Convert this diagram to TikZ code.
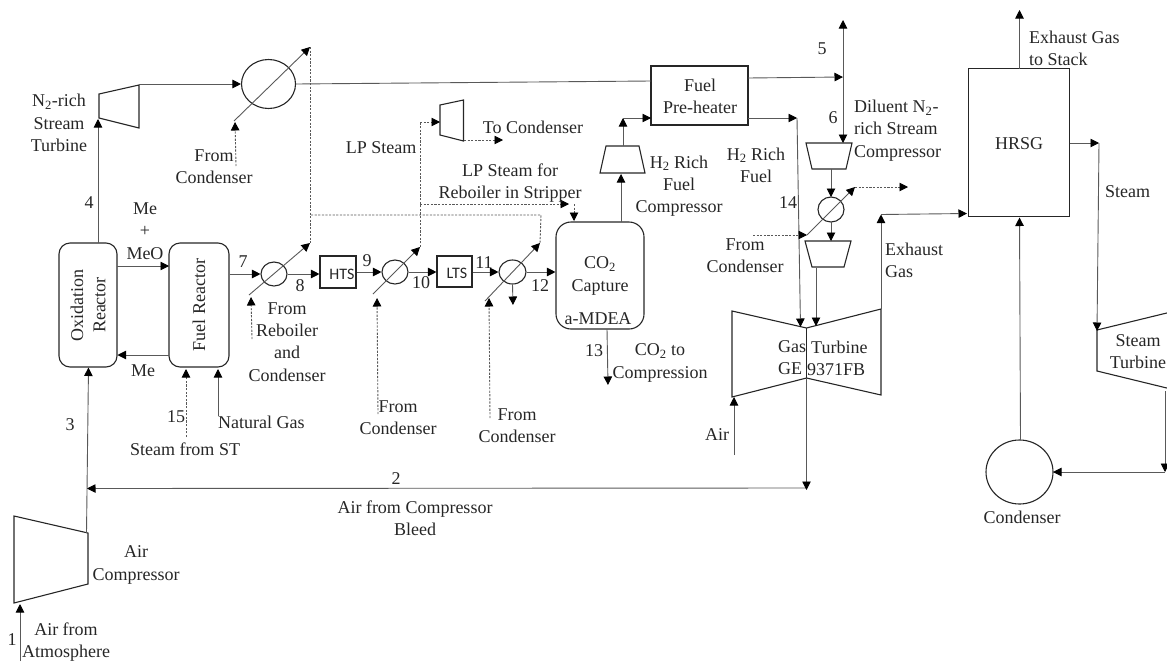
\documentclass[tikz,border=0pt]{standalone}
\usepackage{fontspec}
\setmainfont{Liberation Serif}
\newfontfamily\labsans{Carlito}
\usetikzlibrary{arrows.meta,shapes.geometric}
\tikzset{
  shp/.style={draw=black!85,line width=1.1pt,line join=miter},
  rbox/.style={shp,rounded corners=11pt,inner sep=0pt},
  sqbox/.style={shp,rectangle,inner sep=0pt},
  hx/.style={shp,ellipse,inner sep=0pt},
  flow/.style={draw=black!65,line width=0.9pt,-{Triangle[length=8.5pt,width=8.5pt,color=black]}},
  flowplain/.style={draw=black!65,line width=0.9pt},
  dflow/.style={flow,dash pattern=on 2.2pt off 1.4pt},
  dplain/.style={flowplain,dash pattern=on 2.2pt off 1.4pt},
  txt/.style={font=\fontsize{18}{22.2}\selectfont,text=black!85,inner sep=0pt,align=center},
  txl/.style={txt,anchor=west,align=left},
  small/.style={font=\labsans\fontsize{16}{18}\selectfont,text=black!85,inner sep=0pt}
}
\begin{document}
\begin{tikzpicture}[x=1pt,y=-1pt]
\useasboundingbox (0,0) rectangle (1167,662);
\clip (0,0) rectangle (1167,662);

% ---- equipment: boxes and reactors
\node[rbox,minimum width=58pt,minimum height=124pt] (ox) at (88,305) {};
\node[rbox,minimum width=60pt,minimum height=124pt] (fuel) at (199,305) {};
\node[sqbox,minimum width=36pt,minimum height=32pt] (hts) at (338,272) {};
\node[sqbox,minimum width=35pt,minimum height=31pt] (lts) at (454.5,271.5) {};
\node[rbox,rounded corners=15pt,minimum width=88pt,minimum height=107pt] (co2) at (600,275.5) {};
\node[sqbox,minimum width=97pt,minimum height=59pt] (pre) at (699.5,95.5) {};
\node[sqbox,minimum width=101pt,minimum height=148pt] (hrsg) at (1019,142.5) {};
\node[shp,ellipse,minimum width=67pt,minimum height=64pt,inner sep=0pt] (cond) at (1019.5,472) {};

% ---- heat exchangers
\node[hx,minimum width=54pt,minimum height=49pt] (hx1) at (268.5,84) {};
\node[hx,minimum width=26pt,minimum height=24pt] (hx2) at (274,274) {};
\node[hx,minimum width=26pt,minimum height=24pt] (hx3) at (395,272) {};
\node[hx,minimum width=27pt,minimum height=24pt] (hx4) at (512.5,272) {};
\node[hx,minimum width=26pt,minimum height=25pt] (hx5) at (831,209.5) {};

% ---- turbomachines: corner points
\coordinate (nt1) at (99,94);  \coordinate (nt2) at (139,85);
\coordinate (nt3) at (139,128);\coordinate (nt4) at (99,118);
\draw[shp] (nt1)--(nt2)--(nt3)--(nt4)--cycle;
\coordinate (lp1) at (440,105);\coordinate (lp2) at (463.5,100);
\coordinate (lp3) at (463.5,141);\coordinate (lp4) at (440,135);
\draw[shp] (lp1)--(lp2)--(lp3)--(lp4)--cycle;
\coordinate (hc1) at (606,146);\coordinate (hc2) at (639,146);
\coordinate (hc3) at (645,173);\coordinate (hc4) at (600,173);
\draw[shp] (hc1)--(hc2)--(hc3)--(hc4)--cycle;
\coordinate (dc1) at (806,143);\coordinate (dc2) at (852,143);
\coordinate (dc3) at (846,169);\coordinate (dc4) at (812,169);
\draw[shp] (dc1)--(dc2)--(dc3)--(dc4)--cycle;
\coordinate (lc1) at (805,241);\coordinate (lc2) at (851,241);
\coordinate (lc3) at (844,267);\coordinate (lc4) at (812,267);
\draw[shp] (lc1)--(lc2)--(lc3)--(lc4)--cycle;
\coordinate (gl1) at (732,311);\coordinate (gc1) at (806.5,328);
\coordinate (gr1) at (881,309);\coordinate (gr2) at (881,395);
\coordinate (gc2) at (806.5,378);\coordinate (gl2) at (732,397);
\draw[shp] (gl1)--(gc1)--(gr1)--(gr2)--(gc2)--(gl2)--cycle;
\draw[shp] (gc1)--(gc2);
\coordinate (ac1) at (14,516);\coordinate (ac2) at (88,533);
\coordinate (ac3) at (88,584);\coordinate (ac4) at (14,603);
\draw[shp] (ac1)--(ac2)--(ac3)--(ac4)--cycle;
\coordinate (st1) at (1097,330);\coordinate (st2) at (1175,311);
\coordinate (st3) at (1175,390);\coordinate (st4) at (1097,371);
\draw[shp] (st1)--(st2)--(st3)--(st4)--cycle;

% ---- free ends and junctions
\coordinate (a1) at (20,661);
\coordinate (a1t) at (20,604);
\coordinate (oxb) at (88.5,367.5);
\coordinate (oxt) at (98,243);
\coordinate (j23) at (87,488.5);
\coordinate (ac2a) at (86.5,533);
\coordinate (gb) at (806.5,490);
\coordinate (gbj) at (806.5,488);
\coordinate (ntin) at (98,119);
\coordinate (ntout) at (139,84);
\coordinate (fr) at (169,266);
\coordinate (oxr) at (117,266);
\coordinate (fr2) at (169,355);
\coordinate (oxr2) at (117.5,355);
\coordinate (s15) at (186,437);
\coordinate (s15t) at (186,369);
\coordinate (ng) at (218,416);
\coordinate (ngt) at (218,369);
\coordinate (hx1a) at (234,121);
\coordinate (hx1b) at (310,47);
\coordinate (hx1c) at (236,166);
\coordinate (hx1d) at (235,122);
\coordinate (hx2a) at (249,295);
\coordinate (hx2b) at (310,243);
\coordinate (hx2c) at (252,339);
\coordinate (hx2d) at (251,297);
\coordinate (jd1) at (311,215);
\coordinate (jd2) at (541,215);
\coordinate (hx4b) at (540,243);
\coordinate (hx4a) at (485,301);
\coordinate (hx4c) at (490,418);
\coordinate (hx4d) at (489,298);
\coordinate (hx3a) at (373,294);
\coordinate (hx3b) at (420,247);
\coordinate (hx3c) at (378,414);
\coordinate (hx3d) at (377,298);
\coordinate (lpj) at (420,204);
\coordinate (lpt) at (420,122);
\coordinate (lpin) at (440,122);
\coordinate (reb) at (574,204);
\coordinate (reb1) at (569,204);
\coordinate (rebt) at (574,221);
\coordinate (lpout) at (464,140);
\coordinate (lpend) at (503,140);
\coordinate (hx4dn) at (513,305);
\coordinate (co2t) at (621,222);
\coordinate (hcb) at (621,174);
\coordinate (hct) at (623,146);
\coordinate (hctt) at (623,118);
\coordinate (prel) at (651,118);
\coordinate (prelin) at (651,81);
\coordinate (co2b) at (607,329);
\coordinate (co2e) at (608,385);
\coordinate (prer1) at (748,78);
\coordinate (j5) at (843,77);
\coordinate (t5) at (843,20);
\coordinate (b6) at (843,143);
\coordinate (prer2) at (748,118);
\coordinate (j14) at (797,118);
\coordinate (gc1a) at (800.5,327);
\coordinate (dcb) at (831,169);
\coordinate (hx5t) at (831,197);
\coordinate (hx5b) at (831,222);
\coordinate (lct) at (831,241);
\coordinate (lcb) at (816,268);
\coordinate (gc1b) at (816,326);
\coordinate (hx5a) at (807,235);
\coordinate (hx5c) at (855,187);
\coordinate (hx5e) at (908,187);
\coordinate (hx5f) at (753,235);
\coordinate (air) at (734,455);
\coordinate (airt) at (734,397);
\coordinate (exj) at (881,214.5);
\coordinate (hrin) at (967,213.5);
\coordinate (stk) at (1019.5,10);
\coordinate (hrt) at (1019.5,68.5);
\coordinate (hrout) at (1069.5,143);
\coordinate (stmj) at (1099,143);
\coordinate (stin) at (1097,331);
\coordinate (stb) at (1165,391);
\coordinate (stbe) at (1165,472);
\coordinate (conin) at (1053,472);
\coordinate (conup) at (1020.5,440);
\coordinate (hrb) at (1019.5,217.5);

% ---- solid connectors
\draw[flow] (a1)--(a1t);
\draw[flow] (ac2a)--(oxb);
\draw[flow] (gbj)--(j23);
\draw[flow] (gc2)--(gb);
\draw[flow] (oxt)--(ntin);
\draw[flow] (ntout)--(hx1.west);
\draw[flowplain] (hx1.east)--(prelin);
\draw[flow] (oxr)--(fr);
\draw[flow] (fr2)--(oxr2);
\draw[flow] (ng)--(ngt);
\draw[flow] (hx1a)--(hx1b);
\draw[flow] (fuel.east|-hx2)--(hx2.west);
\draw[flow] (hx2.east)--(hts.west|-hx2);
\draw[flow] (hx2a)--(hx2b);
\draw[flow] (hts.east)--(hx3.west);
\draw[flow] (hx3a)--(hx3b);
\draw[flow] (hx3.east)--(lts.west|-hx3);
\draw[flow] (lts.east|-hx4)--(hx4.west);
\draw[flow] (hx4a)--(hx4b);
\draw[flow] (hx4.south)--(hx4dn);
\draw[flow] (hx4.east)--(co2.west|-hx4);
\draw[flow] (co2t)--(hcb);
\draw[flow] (hct)--(hctt);
\draw[flow] (hctt)--(prel);
\draw[flow] (co2b)--(co2e);
\draw[flow] (prer1)--(j5);
\draw[flow] (j5)--(t5);
\draw[flow] (j5)--(b6);
\draw[flow] (prer2)--(j14);
\draw[flow] (j14)--(gc1a);
\draw[flow] (dcb)--(hx5t);
\draw[flow] (hx5b)--(lct);
\draw[flow] (lcb)--(gc1b);
\draw[flow] (hx5a)--(hx5c);
\draw[flow] (air)--(airt);
\draw[flow] (gr1)--(exj);
\draw[flow] (exj)--(hrin);
\draw[flow] (hrt)--(stk);
\draw[flow] (hrout)--(stmj);
\draw[flow] (stmj)--(stin);
\draw[flow] (stb)--(stbe);
\draw[flow] (stbe)--(conin);
\draw[flow] (conup)--(hrb);

% ---- dashed connectors
\draw[dflow] (s15)--(s15t);
\draw[dflow] (hx1c)--(hx1d);
\draw[dplain] (hx1b)--(hx2b);
\draw[dflow] (hx2c)--(hx2d);
\draw[dplain] (jd1)--(jd2)--(hx4b);
\draw[dflow] (hx3c)--(hx3d);
\draw[dflow] (hx4c)--(hx4d);
\draw[dplain] (hx3b)--(lpt);
\draw[dflow] (lpt)--(lpin);
\draw[dflow] (lpj)--(reb1);
\draw[dflow] (reb)--(rebt);
\draw[dflow] (lpout)--(lpend);
\draw[dflow] (hx5c)--(hx5e);
\draw[dflow] (hx5f)--(hx5a);

% ---- labels
\node[txt] (tN) at (59,123) {N\textsubscript{2}-rich\\Stream\\Turbine};
\node[txt] (t4) at (89,203) {4};
\node[txt] (tMe) at (145,231) {Me\\+\\MeO};
\node[txt,rotate=90] (tOx) at (88,305) {Oxidation\\Reactor};
\node[txt,rotate=90] (tFu) at (199,305) {Fuel Reactor};
\node[txt] (t7) at (243,262) {7};
\node[txt] (t8) at (300,286) {8};
\node[txt] (t9) at (367,261) {9};
\node[txt] (t10) at (421,283) {10};
\node[txt] (t11) at (484,263) {11};
\node[txt] (t12) at (540,286) {12};
\node[txt] (t13) at (594,351) {13};
\node[txt] (tFC1) at (214,167) {From\\Condenser};
\node[txt] (tFR) at (287,342) {From\\Reboiler\\and\\Condenser};
\node[txt] (tFC2) at (398,418) {From\\Condenser};
\node[txt] (tFC3) at (517,426) {From\\Condenser};
\node[txt] (tLP) at (381,148) {LP Steam};
\node[txt] (tLP2) at (510,183) {LP Steam for\\Reboiler in Stripper};
\node[txt] (tTo) at (533,127) {To Condenser};
\node[txt] (tH1) at (679,186) {H\textsubscript{2} Rich\\Fuel\\Compressor};
\node[txt] (tH2) at (756,165) {H\textsubscript{2} Rich\\Fuel};
\node[txt] (t14) at (788,203) {14};
\node[txt] (t5) at (822,49) {5};
\node[txt] (t6) at (833,118) {6};
\node[txl] (tDil) at (854,130.5) {Diluent N\textsubscript{2}-\\rich Stream\\Compressor};
\node[txt] (tFC4) at (745,256) {From\\Condenser};
\node[txl] (tEx) at (885,260) {Exhaust\\Gas};
\node[txl] (tGE) at (778,358) {Gas\\GE};
\node[txl] (tTu) at (807,358) {\hspace*{4pt}Turbine\\9371FB};
\node[txt] (tAir) at (717,435) {Air};
\node[txt] (tCO2) at (600,276) {CO\textsubscript{2}\\Capture};
\node[txt] (tMD) at (598,319) {a-MDEA};
\node[txt] (tCC) at (660,363) {CO\textsubscript{2} to\\Compression};
\node[txt] (tPre) at (700,96) {Fuel\\Pre-heater};
\node[small] (tHTS) at (342,274) {HTS};
\node[small] (tLTS) at (457,273) {LTS};
\node[txt] (t3) at (70,425) {3};
\node[txt] (tMe2) at (143,371) {Me};
\node[txt] (t15) at (176,417) {15};
\node[txl] (tNG) at (218,422) {Natural Gas};
\node[txt] (tSF) at (185,449) {Steam from ST};
\node[txt] (t2) at (396,479) {2};
\node[txt] (tAB) at (415,518) {Air from Compressor\\Bleed};
\node[txt] (tAC) at (136,565) {Air\\Compressor};
\node[txt] (t1) at (12,640) {1};
\node[txt] (tAA) at (66,642) {Air from\\Atmosphere};
\node[txl] (tSt) at (1029,48) {Exhaust Gas\\to Stack};
\node[txt] (tHR) at (1019,143.5) {HRSG};
\node[txl] (tSm) at (1105,192) {Steam};
\node[txt] (tST) at (1138,352) {Steam\\Turbine};
\node[txt] (tCo) at (1022,517) {Condenser};
\end{tikzpicture}
\end{document}
